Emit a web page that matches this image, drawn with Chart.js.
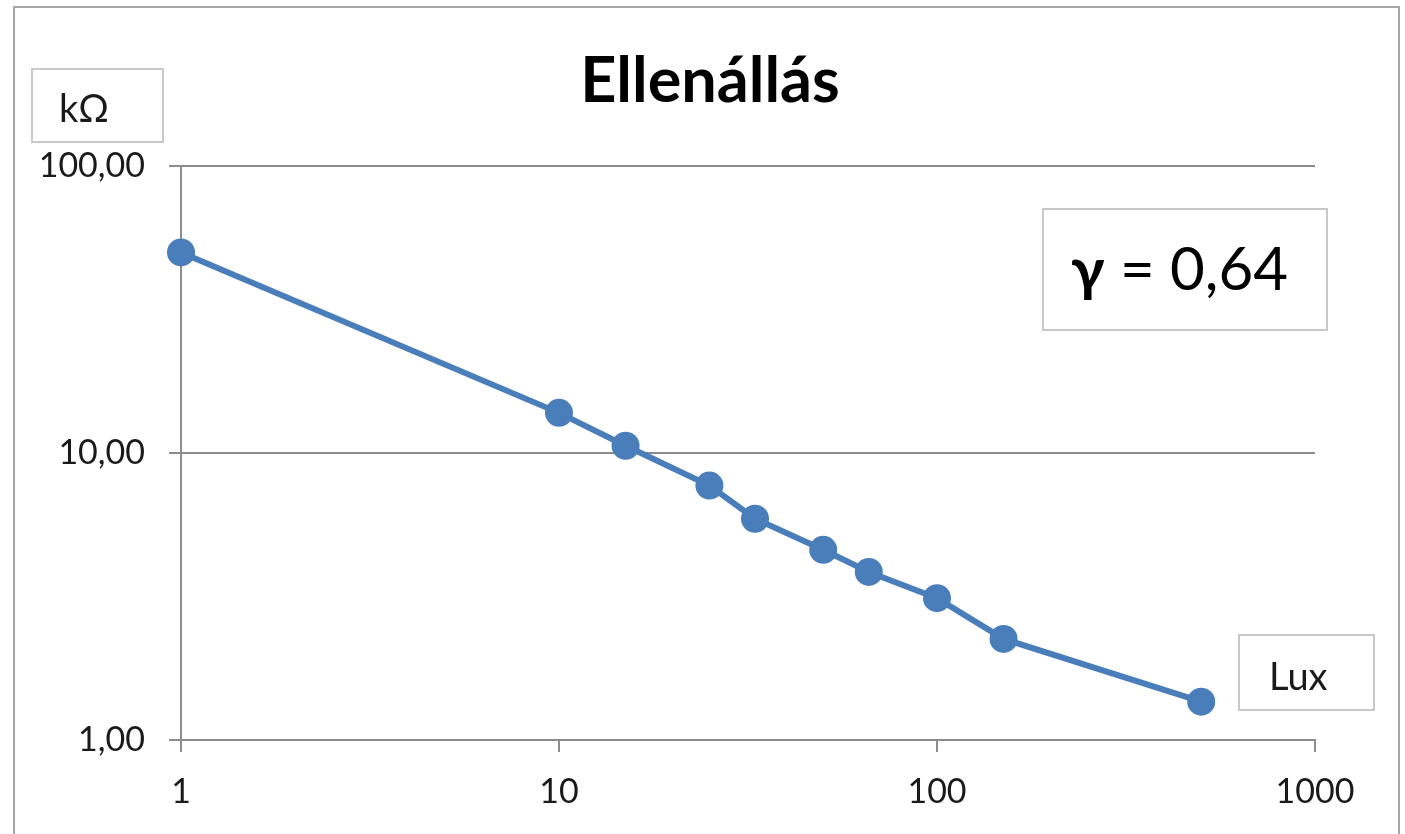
<!DOCTYPE html>
<html><head><meta charset="utf-8">
<script src="https://cdn.jsdelivr.net/npm/chart.js@4"></script>
<style>html,body{margin:0;padding:0;background:#fff;}canvas{display:block;}</style>
</head><body>
<canvas id="c" width="1405" height="834"></canvas>
<script>
const luxValues = [1, 10, 15, 25, 33, 50, 66, 100, 150, 500];
const resistanceValues = [50, 13.8, 10.6, 7.7, 5.9, 4.6, 3.85, 3.12, 2.25, 1.36];
const xTickValues = [1, 10, 100, 1000];
const xTickLabels = ['1', '10', '100', '1000'];
const yTickValues = [1, 10, 100];
const yTickLabels = ['1,00', '10,00', '100,00'];
const titleText = 'Ellenállás';
const yUnitText = 'kΩ';
const xUnitText = 'Lux';
const gammaSymbol = 'γ';
const gammaValueText = ' = 0,64';

const FONT = 'Lato, "Open Sans", sans-serif';
const lineColor = '#4a7ebb';
const gridColor = '#8c8c8c';

const decorPlugin = {
  id: 'decor',
  beforeDraw(chart) {
    const ctx = chart.ctx;
    ctx.save();
    ctx.fillStyle = '#fff';
    ctx.fillRect(0, 0, chart.width, chart.height);
    ctx.restore();
  },
  afterDraw(chart) {
    const ctx = chart.ctx;
    ctx.save();
    ctx.strokeStyle = '#a6a6a6';
    ctx.lineWidth = 2;
    ctx.strokeRect(14, 7, 1385, 840);
    ctx.fillStyle = '#000';
    ctx.font = 'bold 63px ' + FONT;
    ctx.textAlign = 'center';
    ctx.textBaseline = 'alphabetic';
    ctx.fillText(titleText, 710, 102);
    function box(x, y, w, h) {
      ctx.fillStyle = '#fff';
      ctx.fillRect(x, y, w, h);
      ctx.strokeStyle = '#c8c8c8';
      ctx.lineWidth = 2;
      ctx.strokeRect(x, y, w, h);
    }
    box(32, 69, 131, 73);
    ctx.fillStyle = '#1a1a1a';
    ctx.textAlign = 'left';
    ctx.font = '38px ' + FONT;
    ctx.fillText(yUnitText, 59, 122);
    box(1239, 635, 135, 75);
    ctx.fillStyle = '#1a1a1a';
    ctx.font = '38px ' + FONT;
    ctx.fillText(xUnitText, 1269, 690);
    box(1043, 209, 284, 121);
    ctx.fillStyle = '#000';
    ctx.font = 'bold 60px ' + FONT;
    ctx.fillText(gammaSymbol, 1071, 290);
    const gw = ctx.measureText(gammaSymbol).width;
    ctx.font = '60px ' + FONT;
    ctx.fillText(gammaValueText, 1071 + gw, 290);
    ctx.restore();
  }
};

new Chart(document.getElementById('c'), {
  type: 'line',
  data: {
    datasets: [{
      data: luxValues.map((x, i) => ({x: x, y: resistanceValues[i]})),
      borderColor: lineColor,
      backgroundColor: lineColor,
      borderWidth: 6,
      pointRadius: 14,
      pointBorderWidth: 0,
      pointBackgroundColor: lineColor,
      tension: 0,
      clip: false
    }]
  },
  options: {
    responsive: false,
    animation: false,
    devicePixelRatio: 1,
    layout: {padding: {left: 0, top: 166, right: 90, bottom: 0}},
    plugins: {legend: {display: false}, title: {display: false}, tooltip: {enabled: false}},
    scales: {
      x: {
        type: 'logarithmic',
        min: 1, max: 1000,
        afterBuildTicks(s) { s.ticks = xTickValues.map(v => ({value: v})); },
        afterFit(s) { s.height = 94; },
        ticks: {
          autoSkip: false, maxRotation: 0, padding: 20,
          color: '#1a1a1a', font: {family: FONT, size: 34},
          callback(v) { const i = xTickValues.indexOf(v); return i >= 0 ? xTickLabels[i] : ''; }
        },
        grid: {drawOnChartArea: false, drawTicks: true, tickLength: 12, color: gridColor, lineWidth: 2},
        border: {display: true, color: gridColor, width: 2}
      },
      y: {
        type: 'logarithmic',
        min: 1, max: 100,
        afterBuildTicks(s) { s.ticks = yTickValues.map(v => ({value: v})); },
        afterFit(s) { s.width = 181; },
        ticks: {
          autoSkip: false, padding: 24,
          color: '#1a1a1a', font: {family: FONT, size: 34},
          callback(v) { const i = yTickValues.indexOf(v); return i >= 0 ? yTickLabels[i] : ''; }
        },
        grid: {drawOnChartArea: true, drawTicks: true, tickLength: 12, color: gridColor, lineWidth: 2},
        border: {display: true, color: gridColor, width: 2}
      }
    }
  },
  plugins: [decorPlugin]
});
</script>
</body></html>
